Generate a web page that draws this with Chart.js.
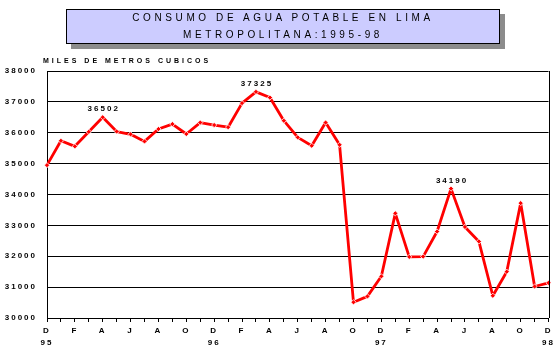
<!DOCTYPE html>
<html>
<head>
<meta charset="utf-8">
<script src="https://cdn.jsdelivr.net/npm/chart.js@4.4.1/dist/chart.umd.min.js"></script>
<style>
  html, body { margin: 0; padding: 0; background: #fff; }
  #wrap { position: relative; width: 558px; height: 359px; overflow: hidden; }
  #c { position: absolute; left: 0; top: 0; }
  #title {
    position: absolute; left: 66px; top: 9px; width: 432px; height: 33px;
    border: 1px solid #000; background: #CCCCFF; box-shadow: 5px 5px 0 #8c8c8c;
    font-family: 'Liberation Sans', Arial, sans-serif; font-size: 10px; letter-spacing: 3.6px;
    text-align: center; color: #000;
  }
  #title div { line-height: 16.5px; height: 16.5px; }
  #unit {
    position: absolute; left: 43px; top: 56px;
    font-family: 'Liberation Sans', Arial, sans-serif; font-size: 7px; font-weight: bold;
    letter-spacing: 3px; line-height: 10px; color: #000; white-space: nowrap;
  }
</style>
</head>
<body>
<div id="wrap">
  <canvas id="c" width="558" height="359"></canvas>
  <div id="title"><div>CONSUMO DE AGUA POTABLE EN LIMA</div><div>METROPOLITANA:1995-98</div></div>
  <div id="unit">MILES DE METROS CUBICOS</div>
</div>
<script>
// Months Dec 1995 .. Dec 1998
const months = ['D','E','F','M','A','M','J','J','A','S','O','N',
                'D','E','F','M','A','M','J','J','A','S','O','N',
                'D','E','F','M','A','M','J','J','A','S','O','N','D'];
const yearLabels = { 0: '95', 12: '96', 24: '97', 36: '98' };
const consumo = [34950, 35740, 35560, 36030, 36502, 36040, 35950, 35720, 36120, 36280, 35960, 36330,
                 36250, 36180, 36960, 37325, 37140, 36390, 35850, 35580, 36330, 35610, 30510, 30700,
                 31350, 33390, 31980, 31990, 32800, 34190, 32950, 32480, 30720, 31500, 33720, 31020, 31140];
const labeledPoints = [4, 15, 29];
const yTicks = [30000, 31000, 32000, 33000, 34000, 35000, 36000, 37000, 38000];

const FONT_FAMILY = "'Liberation Sans', Arial, sans-serif";

const spacingPlugin = {
  id: 'spacing',
  beforeLayout(chart) { chart.ctx.letterSpacing = '2px'; },
  beforeDraw(chart) { chart.ctx.letterSpacing = '2px'; }
};

const frameAndLabels = {
  id: 'frameAndLabels',
  afterDraw(chart) {
    const ctx = chart.ctx;
    const a = chart.chartArea;
    ctx.save();
    ctx.strokeStyle = '#000';
    ctx.lineWidth = 1;
    ctx.beginPath();
    ctx.moveTo(Math.round(a.right) + 0.5, a.top);
    ctx.lineTo(Math.round(a.right) + 0.5, a.bottom);
    ctx.stroke();
    const meta = chart.getDatasetMeta(0);
    ctx.font = 'bold 8px ' + FONT_FAMILY;
    ctx.letterSpacing = '2px';
    ctx.fillStyle = '#000';
    ctx.textAlign = 'center';
    ctx.textBaseline = 'middle';
    labeledPoints.forEach(i => {
      const p = meta.data[i];
      ctx.fillText(String(consumo[i]), p.x + 1, p.y - 8);
    });
    ctx.restore();
  }
};

new Chart(document.getElementById('c'), {
  type: 'line',
  data: {
    labels: months,
    datasets: [{
      data: consumo,
      borderColor: '#FF0000',
      borderWidth: 2.8,
      borderJoinStyle: 'round',
      borderCapStyle: 'round',
      tension: 0,
      pointStyle: 'rectRot',
      pointRadius: 2.6,
      pointBackgroundColor: '#FF0000',
      pointBorderColor: '#FFFFFF',
      pointBorderWidth: 0.8,
      clip: false
    }]
  },
  options: {
    responsive: false,
    animation: false,
    events: [],
    layout: { padding: { top: 71, right: 8, left: 0, bottom: 0 } },
    plugins: { legend: { display: false }, tooltip: { enabled: false }, title: { display: false } },
    scales: {
      x: {
        type: 'category',
        offset: false,
        grid: { drawOnChartArea: false, drawTicks: true, tickLength: 4, color: '#000', lineWidth: 1 },
        border: { display: true, color: '#000', width: 1 },
        ticks: {
          autoSkip: false, maxRotation: 0, minRotation: 0, padding: 3,
          color: '#000',
          font: { family: FONT_FAMILY, size: 8, weight: 'bold', lineHeight: 1.45 },
          callback: function(v, i) {
            if (i % 2 !== 0) return '';
            const m = months[i];
            return yearLabels[i] ? [m, yearLabels[i]] : m;
          }
        },
        afterFit(s) { s.height = 41; }
      },
      y: {
        min: 30000, max: 38000,
        afterBuildTicks(s) { s.ticks = yTicks.map(v => ({ value: v })); },
        grid: { drawTicks: false, color: '#000', lineWidth: 1 },
        border: { display: true, color: '#000', width: 1 },
        ticks: {
          padding: 10, color: '#000',
          font: { family: FONT_FAMILY, size: 8, weight: 'bold' },
          callback: v => String(v)
        },
        afterFit(s) { s.width = 47; }
      }
    }
  },
  plugins: [spacingPlugin, frameAndLabels]
});
</script>
</body>
</html>
